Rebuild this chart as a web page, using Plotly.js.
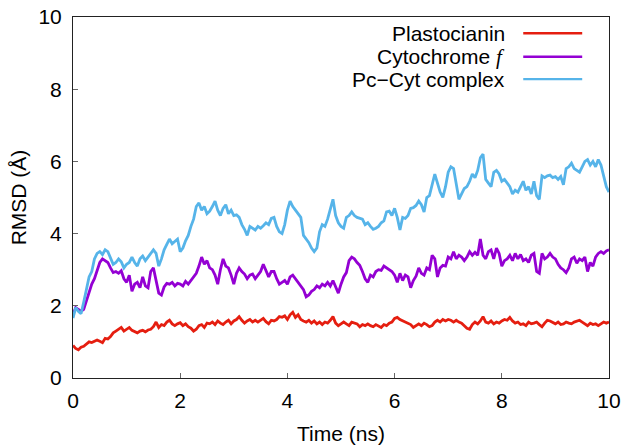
<!DOCTYPE html>
<html>
<head>
<meta charset="utf-8">
<script src="https://cdn.plot.ly/plotly-3.0.1.min.js"></script>
<style>
  html, body { margin: 0; padding: 0; background: #fff; }
  #chart { width: 624px; height: 447px; }
</style>
</head>
<body>
<div id="chart"></div>
<script>
// RMSD traces sampled every 0.05 ns from 0 to 10 ns
const timeStart = 0;
const timeStep = 0.05;

const plastocianin = [
  0.90, 0.82, 0.78, 0.85, 0.88, 0.95, 1.00, 0.98, 1.02, 1.05,
  1.02, 0.98, 1.10, 1.08, 1.15, 1.25, 1.30, 1.35, 1.40, 1.30,
  1.35, 1.40, 1.32, 1.28, 1.25, 1.30, 1.32, 1.28, 1.33, 1.35,
  1.42, 1.55, 1.40, 1.48, 1.45, 1.55, 1.60, 1.50, 1.45, 1.50,
  1.53, 1.45, 1.50, 1.42, 1.38, 1.30, 1.35, 1.45, 1.48, 1.40,
  1.52, 1.50, 1.55, 1.48, 1.58, 1.52, 1.48, 1.55, 1.60, 1.50,
  1.58, 1.62, 1.70, 1.60, 1.52, 1.58, 1.62, 1.55, 1.60, 1.55,
  1.60, 1.65, 1.56, 1.50, 1.60, 1.58, 1.62, 1.70, 1.68, 1.72,
  1.62, 1.75, 1.82, 1.68, 1.75, 1.62, 1.58, 1.55, 1.60, 1.52,
  1.58, 1.50, 1.55, 1.48, 1.55, 1.52, 1.60, 1.70, 1.52, 1.45,
  1.50, 1.55, 1.50, 1.45, 1.55, 1.52, 1.50, 1.42, 1.48, 1.45,
  1.50, 1.45, 1.42, 1.48, 1.45, 1.40, 1.48, 1.45, 1.52, 1.55,
  1.65, 1.68, 1.62, 1.58, 1.55, 1.52, 1.48, 1.40, 1.45, 1.50,
  1.45, 1.52, 1.48, 1.42, 1.45, 1.55, 1.60, 1.55, 1.62, 1.58,
  1.62, 1.60, 1.55, 1.60, 1.55, 1.52, 1.45, 1.38, 1.35, 1.48,
  1.55, 1.50, 1.58, 1.70, 1.55, 1.52, 1.58, 1.50, 1.55, 1.52,
  1.58, 1.62, 1.60, 1.68, 1.58, 1.52, 1.55, 1.48, 1.50, 1.45,
  1.55, 1.50, 1.52, 1.55, 1.48, 1.42, 1.52, 1.60, 1.58, 1.55,
  1.50, 1.55, 1.48, 1.50, 1.55, 1.52, 1.50, 1.55, 1.58, 1.60,
  1.55, 1.50, 1.45, 1.52, 1.48, 1.50, 1.45, 1.50, 1.55, 1.52,
  1.55
];

const cytochromeF = [
  1.75, 1.95, 1.90, 1.85, 1.90, 2.15, 2.40, 2.60, 2.75, 2.95,
  3.20, 3.30, 3.25, 3.20, 3.05, 2.92, 2.95, 2.90, 2.97, 2.75,
  2.65, 2.85, 2.40, 2.60, 2.65, 2.50, 2.80, 2.55, 2.50, 2.95,
  3.05, 2.70, 2.35, 2.30, 2.52, 2.62, 2.60, 2.65, 2.55, 2.62,
  2.60, 2.55, 2.68, 2.60, 2.70, 2.82, 2.90, 3.10, 3.35, 3.15,
  3.25, 3.05, 3.00, 2.85, 2.60, 3.00, 3.30, 3.10, 3.05, 2.85,
  2.60, 2.90, 3.05, 2.95, 2.88, 2.75, 2.85, 2.88, 2.75, 2.85,
  2.95, 3.15, 2.95, 2.80, 2.95, 2.95, 2.75, 2.60, 2.65, 2.70,
  2.60, 2.80, 2.85, 2.75, 2.62, 2.52, 2.45, 2.25, 2.30, 2.40,
  2.45, 2.55, 2.50, 2.60, 2.55, 2.65, 2.55, 2.70, 2.50, 2.35,
  2.60, 2.80, 2.92, 3.25, 3.35, 3.30, 3.20, 3.12, 2.95, 2.75,
  2.65, 2.85, 2.80, 2.95, 3.00, 2.98, 3.10, 3.05, 3.00, 2.95,
  2.85, 2.65, 2.90, 2.70, 2.85, 2.80, 2.50, 2.70, 2.82, 3.05,
  2.90, 2.85, 3.05, 3.00, 3.40, 3.30, 2.80, 3.05, 3.12, 3.10,
  3.35, 3.30, 3.50, 3.30, 3.40, 3.35, 3.25, 3.35, 3.50, 3.40,
  3.48, 3.40, 3.85, 3.40, 3.30, 3.50, 3.55, 3.30, 3.60, 3.45,
  3.10, 3.25, 3.30, 3.40, 3.25, 3.45, 3.30, 3.42, 3.25, 3.30,
  3.20, 3.40, 3.45, 2.95, 2.90, 3.45, 3.30, 3.35, 3.45, 3.35,
  3.30, 3.15, 3.05, 3.00, 2.92, 3.05, 3.30, 3.35, 3.18, 3.30,
  3.25, 3.35, 2.95, 3.20, 3.10, 3.35, 3.45, 3.50, 3.45, 3.52,
  3.55
];

const pcCytComplex = [
  1.66, 1.95, 1.85, 1.78, 2.10, 2.50, 2.80, 2.95, 3.30, 3.45,
  3.50, 3.42, 3.55, 3.50, 3.30, 3.15, 3.20, 3.30, 3.22, 3.05,
  3.15, 3.20, 3.35, 3.20, 3.10, 3.30, 3.38, 3.25, 3.35, 3.45,
  3.55, 3.45, 3.10, 3.30, 3.55, 3.70, 3.85, 3.72, 3.78, 3.85,
  3.50, 3.60, 3.80, 3.95, 4.20, 4.40, 4.75, 4.85, 4.65, 4.75,
  4.55, 4.62, 4.75, 4.90, 4.65, 4.50, 4.70, 4.80, 4.55, 4.65,
  4.50, 4.52, 4.45, 4.25, 4.12, 3.95, 4.20, 4.15, 4.10, 4.20,
  4.15, 4.22, 4.30, 4.25, 4.42, 4.45, 4.20, 4.05, 4.00, 4.25,
  4.65, 4.90, 4.75, 4.65, 4.55, 4.45, 3.95, 3.85, 3.75, 3.60,
  3.50, 3.60, 4.05, 4.25, 4.20, 4.40, 4.65, 4.95, 4.50, 4.30,
  4.20, 4.15, 4.45, 4.50, 4.60, 4.50, 4.45, 4.42, 4.40, 4.25,
  4.30, 4.20, 4.12, 4.15, 4.20, 4.30, 4.35, 4.60, 4.62, 4.50,
  4.70, 4.45, 4.10, 4.45, 4.42, 4.50, 4.70, 4.72, 4.78, 4.90,
  4.80, 4.60, 5.00, 5.05, 5.35, 5.65, 5.40, 5.15, 5.00, 5.30,
  5.70, 5.85, 5.80, 5.40, 4.95, 5.10, 5.25, 5.30, 5.45, 5.65,
  5.55, 5.75, 6.10, 6.20, 5.50, 5.40, 5.30, 5.70, 5.75, 5.65,
  5.45, 5.50, 5.40, 5.30, 5.10, 5.20, 5.15, 5.30, 5.45, 5.20,
  5.30, 5.10, 5.45, 5.05, 4.95, 5.60, 5.55, 5.60, 5.62, 5.55,
  5.58, 5.50, 5.58, 5.35, 5.80, 5.85, 5.95, 5.80, 5.75, 5.70,
  5.85, 6.00, 6.05, 5.90, 6.00, 5.85, 6.05, 5.90, 5.60, 5.30,
  5.15
];

const seriesNames = ['Plastocianin', 'Cytochrome f', 'Pc\u2212Cyt complex'];
const legendLabels = [
  'Plastocianin',
  'Cytochrome <span style="font-family:\'Liberation Serif\', serif;font-style:italic">f</span>',
  'Pc\u2212Cyt complex'
];
const seriesColors = ['#e51e10', '#9400d3', '#56b4e9'];
const seriesValues = [plastocianin, cytochromeF, pcCytComplex];

const axisTicks = [0, 2, 4, 6, 8, 10];

const traces = seriesValues.map((vals, i) => ({
  type: 'scatter',
  mode: 'lines',
  name: seriesNames[i],
  x0: timeStart,
  dx: timeStep,
  y: vals,
  line: { color: seriesColors[i], width: 2.8 },
  showlegend: false,
  hoverinfo: 'skip'
}));

// Key in the upper right: label text right-aligned, sample line to its right
const keyRowsY = [0.955, 0.89, 0.828];
const annotations = legendLabels.map((lbl, i) => ({
  xref: 'paper', yref: 'paper',
  x: 0.81, y: keyRowsY[i],
  xanchor: 'right', yanchor: 'middle',
  text: lbl,
  showarrow: false,
  font: { family: 'Liberation Sans, Arial, sans-serif', size: 21, color: '#000' }
}));
const shapes = seriesColors.map((c, i) => ({
  type: 'line',
  xref: 'paper', yref: 'paper',
  x0: 0.84, x1: 0.95,
  y0: keyRowsY[i], y1: keyRowsY[i],
  line: { color: c, width: 2.4 }
}));

const axisCommon = {
  range: [0, 10],
  tickvals: axisTicks,
  ticktext: axisTicks.map(String),
  ticks: 'inside',
  ticklen: 5,
  tickwidth: 1,
  tickcolor: '#666',
  showline: true,
  mirror: true,
  linecolor: '#222',
  linewidth: 1,
  showgrid: false,
  zeroline: false,
  tickfont: { family: 'Liberation Sans, Arial, sans-serif', size: 21, color: '#000' }
};

const layout = {
  width: 624,
  height: 447,
  margin: { l: 73, r: 15, t: 17, b: 69 },
  paper_bgcolor: '#fff',
  plot_bgcolor: '#fff',
  font: { family: 'Liberation Sans, Arial, sans-serif', color: '#000' },
  xaxis: Object.assign({}, axisCommon, {
    title: { text: 'Time (ns)', font: { size: 21, color: '#000' }, standoff: 15 },
    ticklabelstandoff: 4
  }),
  yaxis: Object.assign({}, axisCommon, {
    title: { text: 'RMSD (\u00c5)', font: { size: 21, color: '#000' }, standoff: 6 },
    ticklabelstandoff: 6
  }),
  annotations: annotations,
  shapes: shapes
};

Plotly.newPlot('chart', traces, layout, { displayModeBar: false, staticPlot: true });
</script>
</body>
</html>
